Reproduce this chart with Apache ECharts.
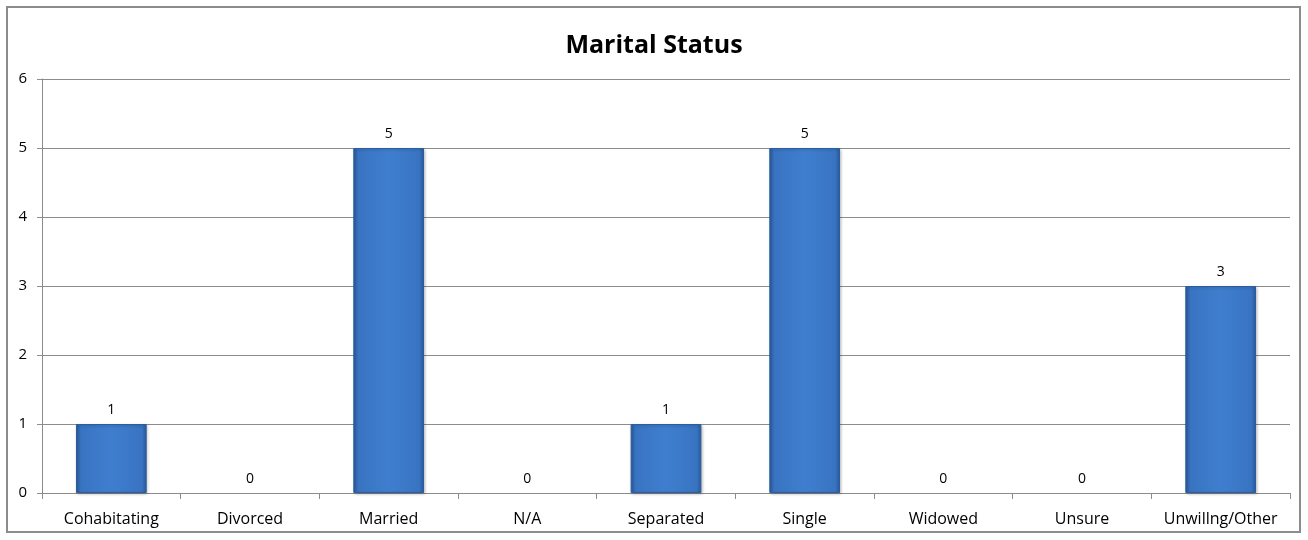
<!DOCTYPE html>
<html>
<head>
<meta charset="utf-8">
<script src="https://cdn.jsdelivr.net/npm/echarts@6/dist/echarts.min.js"></script>
<style>
  html, body { margin: 0; padding: 0; background: #fff; }
  #frame {
    position: absolute; left: 6px; top: 6px;
    width: 1295px; height: 527px;
    border: 2px solid #8c8c8c; box-sizing: border-box;
  }
  #chart { position: absolute; left: 0; top: 0; width: 1308px; height: 540px; }
</style>
</head>
<body>
<div id="frame"></div>
<div id="chart"></div>
<script>
var categories = ["Cohabitating", "Divorced", "Married", "N/A", "Separated", "Single", "Widowed", "Unsure", "Unwillng/Other"];
var counts = [1, 0, 5, 0, 1, 5, 0, 0, 3];
var yTicks = [0, 1, 2, 3, 4, 5, 6];

var barFill = new echarts.graphic.LinearGradient(0, 0, 1, 0, [
  { offset: 0, color: "#2b5b9b" },
  { offset: 0.07, color: "#3974c2" },
  { offset: 0.5, color: "#3f7ecf" },
  { offset: 0.93, color: "#3974c2" },
  { offset: 1, color: "#2b5b9b" }
]);

// zero bars in the original are just a faint line on the axis
var barData = counts.map(function (v) {
  if (v === 0) {
    return { value: v, itemStyle: { borderWidth: 0, shadowBlur: 0, shadowOffsetX: 0, shadowOffsetY: 0, color: "rgba(0,0,0,0)" } };
  }
  return v;
});

var chart = echarts.init(document.getElementById("chart"));
chart.setOption({
  animation: false,
  title: {
    text: "Marital Status",
    left: "center",
    top: 28,
    textStyle: {
      fontFamily: "Open Sans",
      fontWeight: "bold",
      fontSize: 25,
      color: "#000"
    }
  },
  grid: {
    left: 42,
    right: 18,
    top: 79,
    bottom: 47,
    containLabel: false
  },
  xAxis: {
    type: "category",
    data: categories,
    axisLine: { lineStyle: { color: "#8c8c8c", width: 1 } },
    axisTick: { show: true, interval: 0, length: 6, lineStyle: { color: "#8c8c8c" } },
    axisLabel: {
      interval: 0,
      hideOverlap: false,
      color: "#000",
      fontFamily: "Open Sans",
      fontSize: 16,
      margin: 18
    }
  },
  yAxis: {
    type: "value",
    min: yTicks[0],
    max: yTicks[yTicks.length - 1],
    interval: 1,
    axisLine: { show: true, lineStyle: { color: "#8c8c8c", width: 1 } },
    axisTick: { show: true, length: 5, lineStyle: { color: "#8c8c8c" } },
    axisLabel: {
      color: "#000",
      fontFamily: "Open Sans",
      fontSize: 15,
      margin: 15
    },
    splitLine: { show: true, lineStyle: { color: "#8c8c8c", width: 1 } }
  },
  series: [
    {
      type: "bar",
      data: barData,
      barWidth: "51%",
      itemStyle: {
        borderColor: "#2c5d9e",
        borderWidth: 1,
        color: barFill,
        shadowColor: "rgba(0,0,0,0.25)",
        shadowBlur: 3,
        shadowOffsetX: 1,
        shadowOffsetY: 1
      },
      label: {
        show: true,
        position: "top",
        distance: 7,
        color: "#000",
        fontFamily: "Open Sans",
        fontSize: 14
      }
    }
  ]
});
</script>
</body>
</html>
